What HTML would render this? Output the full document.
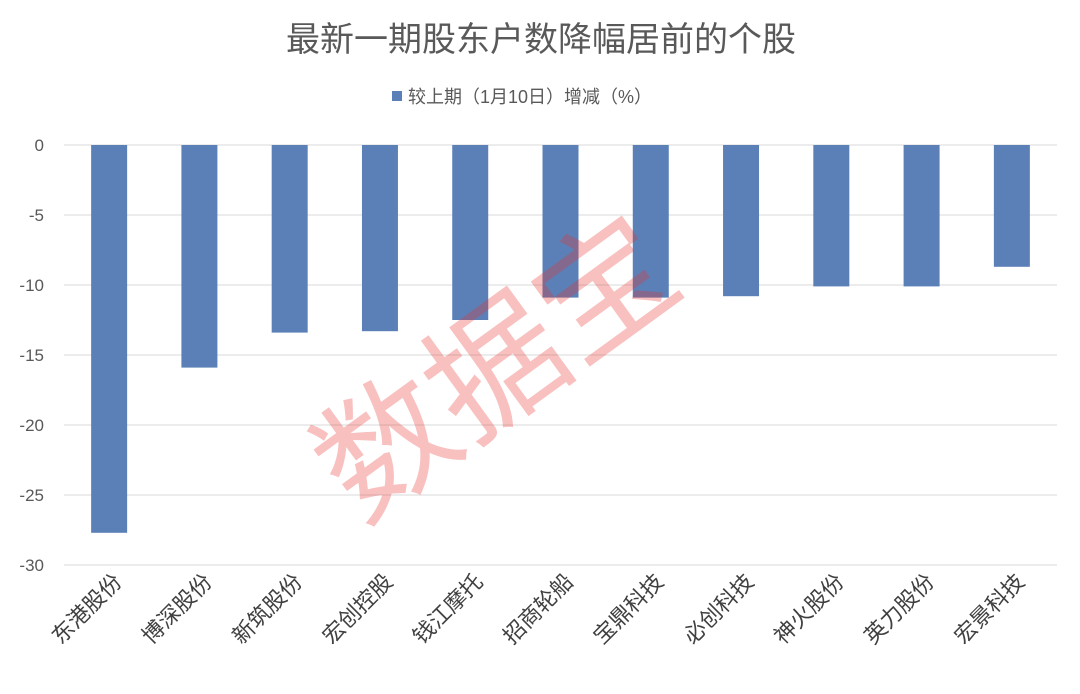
<!DOCTYPE html>
<html><head><meta charset="utf-8"><style>
body{margin:0;background:#fff;font-family:"Liberation Sans","Noto Sans CJK SC",sans-serif;}
</style></head><body>
<svg id="c" width="1080" height="689" xmlns="http://www.w3.org/2000/svg" font-family="Liberation Sans, Noto Sans CJK SC, sans-serif">
<text x="541" y="51" text-anchor="middle" font-size="34" fill="#595959">最新一期股东户数降幅居前的个股</text>
<rect x="392" y="91" width="10" height="10" fill="#5b80b8"/>
<text x="408" y="103" font-size="18" fill="#595959">较上期（1月10日）增减（%）</text>
<g id="grid"></g><g id="bars"></g><g id="labels"></g>
<text x="0" y="0" font-size="135" fill="#e8322d" fill-opacity="0.3" transform="translate(360,525) rotate(-36)">数据宝</text>
</svg>
<script>
const categories=["东港股份","博深股份","新筑股份","宏创控股","钱江摩托","招商轮船","宝鼎科技","必创科技","神火股份","英力股份","宏景科技"];
const values=[-27.7,-15.9,-13.4,-13.3,-12.5,-10.9,-10.9,-10.8,-10.1,-10.1,-8.7];
const ticks=[0,-5,-10,-15,-20,-25,-30];
const NS="http://www.w3.org/2000/svg";
const x0=64,x1=1057,y0=145,pxPer=14;
const step=(x1-x0)/categories.length;
const y=v=>y0-v*pxPer;
function mk(t,a,p){const e=document.createElementNS(NS,t);for(const k in a)e.setAttribute(k,a[k]);p.appendChild(e);return e;}
const grid=document.getElementById('grid'),bars=document.getElementById('bars'),labels=document.getElementById('labels');
ticks.forEach(t=>{
 const l=mk('line',{x1:x0,x2:x1,y1:y(t),y2:y(t),stroke:'#d9d9d9','stroke-width':1},grid);
 
 
 const tx=mk('text',{x:44,y:y(t)+6,'text-anchor':'end','font-size':17,fill:'#595959'},grid);
 tx.textContent=t;
 
 
});
categories.forEach((c,i)=>{
 const cx=x0+step*(i+0.5);
 const r=mk('rect',{x:cx-18,y:y0,width:36,height:y(values[i])-y0,fill:'#5b80b8'},bars);
 
 
 const t=mk('text',{x:0,y:0,'text-anchor':'end','font-size':22,fill:'#404040',transform:`translate(${cx+14},${y0+438}) rotate(-45)`},labels);
 t.textContent=c;
 
 
});
</script>
</body></html>
